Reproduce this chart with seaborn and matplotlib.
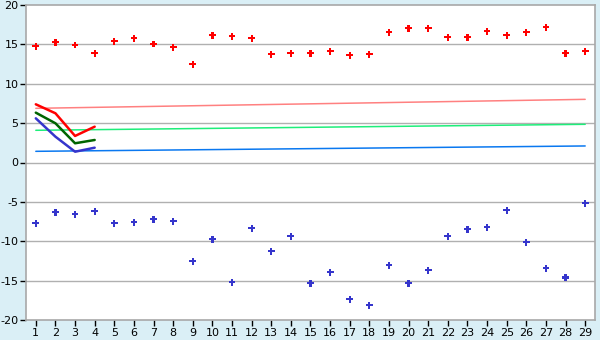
import matplotlib
matplotlib.use("Agg")
import matplotlib.pyplot as plt
import seaborn as sns
import pandas as pd

categories = list(range(1, 30))
high_values = [14.75, 15.26, 14.92, 13.87, 15.39, 15.77, 15.05, 14.63, 12.47, 16.15,
               16.02, 15.77, 13.74, 13.87, 13.87, 14.12, 13.61, 13.74, 16.53, 17.04,
               17.04, 15.90, 15.90, 16.66, 16.15, 16.53, 17.17, 13.87, 14.12]
low_values = [-7.72, -6.33, -6.58, -6.20, -7.72, -7.60, -7.21, -7.47, -12.55, -9.75,
              -15.21, -8.36, -11.28, -9.37, -15.34, -13.94, -17.37, -18.13, -13.05, -15.34,
              -13.69, -9.37, -8.48, -8.23, -6.07, -10.13, -13.43, -14.60, -5.18]

trend_x = [1, 29]
trend_red = [6.88, 8.02]
trend_green = [4.09, 4.85]
trend_blue = [1.42, 2.10]

recent_x = [1, 2, 3, 4]
recent_red = [7.39, 6.25, 3.37, 4.55]
recent_green = [6.33, 4.98, 2.44, 2.86]
recent_blue = [5.61, 3.28, 1.37, 1.88]

y_ticks = [-20, -15, -10, -5, 0, 5, 10, 15, 20]

sns.set_theme(style="white")
plt.rcParams['font.family'] = ['DejaVu Sans']

fig = plt.figure(figsize=(6, 3.4), dpi=100)
fig.patch.set_facecolor('#daeff6')
ax = fig.add_axes([26/600, 20/340, 569/600, 315/340])
ax.set_facecolor('white')

for yv in y_ticks[1:-1]:
    ax.axhline(yv, color='#b0b0b0', lw=1.0, zorder=0)

# trend lines
sns.lineplot(x=trend_x, y=trend_red, color='#ff8080', lw=1.1, ax=ax, zorder=2)
sns.lineplot(x=trend_x, y=trend_green, color='#1eee7a', lw=1.1, ax=ax, zorder=2)
sns.lineplot(x=trend_x, y=trend_blue, color='#0a78f0', lw=1.1, ax=ax, zorder=2)

# recent thick lines
sns.lineplot(x=recent_x, y=recent_red, color='#ff0000', lw=1.8, ax=ax, zorder=3)
sns.lineplot(x=recent_x, y=recent_green, color='#006400', lw=1.8, ax=ax, zorder=3)
sns.lineplot(x=recent_x, y=recent_blue, color='#3535cc', lw=1.8, ax=ax, zorder=3)

# points
df = pd.DataFrame({'x': categories, 'hi': high_values, 'lo': low_values})
sns.scatterplot(data=df, x='x', y='hi', marker='P', s=24, color='#ff0000',
                edgecolor='none', ax=ax, zorder=4)
sns.scatterplot(data=df, x='x', y='lo', marker='P', s=24, color='#3535cc',
                edgecolor='none', ax=ax, zorder=4)

ax.set_xlim(0.5, 29.5)
ax.set_ylim(-20, 20)
ax.set_xticks(categories)
ax.set_xticklabels([str(c) for c in categories])
ax.set_yticks(y_ticks)
ax.set_yticklabels([str(v) for v in y_ticks])
ax.set_xlabel('')
ax.set_ylabel('')
for sp in ax.spines.values():
    sp.set_color('#a8a8a8')
    sp.set_linewidth(1.2)
ax.tick_params(axis='both', which='both', direction='out', length=4, width=1,
               color='black', labelsize=8, labelcolor='black', pad=1.5)
ax.tick_params(left=True, bottom=True)

fig.savefig('out.png', dpi=100, facecolor=fig.get_facecolor())
